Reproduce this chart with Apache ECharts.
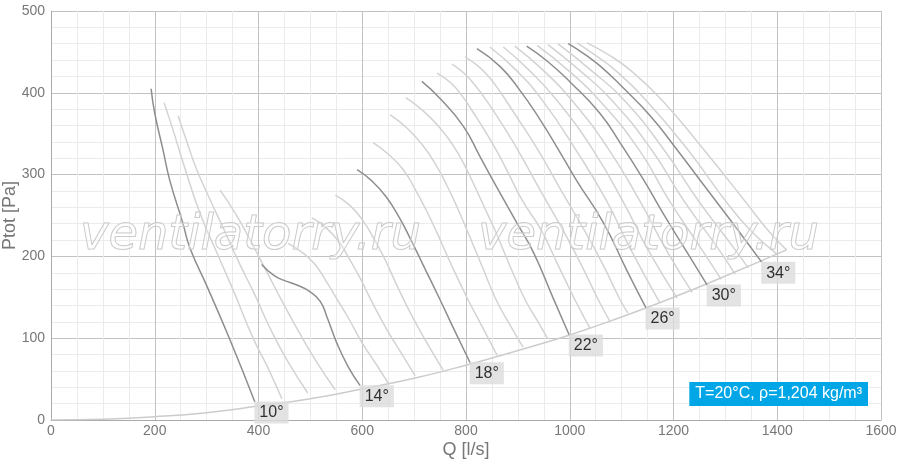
<!DOCTYPE html>
<html><head><meta charset="utf-8">
<script src="https://cdn.jsdelivr.net/npm/echarts/dist/echarts.min.js"></script>
<style>html,body{margin:0;padding:0;background:#fff}#c{width:900px;height:471px}</style>
</head><body><div id="c"></div>
<script>
// Fan curves Q [l/s], Ptot [Pa], one per blade angle
const c10 = [[193,405],[200,375],[216,330],[229,293],[254,241],[268,210],[301,163],[345,98],[393,22]];
const c11 = [[218,388],[237,351],[255,314],[287,253],[316,210],[353,156],[389,101],[418,64],[445,26]];
const c12 = [[245,372],[262,340],[281,306],[307,269],[334,232],[362,193],[393,153],[424,110],[457,71],[495,33]];
const c13 = [[326,281],[355,253],[384,220],[416,181],[449,141],[482,103],[515,68],[548,37]];
const c14 = [[406,190],[429,177],[448,171],[474,165],[499,157],[519,145],[532,126],[551,94],[573,65],[596,42]];
const c15 = [[457,216],[484,205],[509,190],[530,170],[551,148],[573,125],[600,94],[625,70],[650,45]];
const c16 = [[503,247],[530,235],[555,218],[576,196],[598,171],[619,144],[648,110],[675,82],[702,54]];
const c17 = [[548,275],[575,263],[600,245],[623,221],[644,196],[665,167],[696,127],[725,94],[756,61]];
const c18 = [[590,306],[619,292],[646,273],[671,248],[694,220],[717,190],[750,147],[779,108],[808,70]];
const c19 = [[621,339],[652,324],[679,306],[702,282],[723,257],[744,229],[773,188],[804,147],[833,112],[860,79]];
const c20 = [[654,373],[686,357],[715,337],[740,314],[763,287],[785,257],[804,229],[831,188],[858,147],[885,116],[910,89]];
const c21 = [[684,394],[719,377],[750,357],[777,334],[800,308],[821,280],[842,251],[858,229],[885,188],[914,147],[937,122],[958,99]];
const c22 = [[715,414],[750,393],[795,359],[827,322],[859,285],[898,241],[930,205],[968,149],[999,104]];
const c23 = [[744,424],[771,412],[794,395],[815,375],[837,353],[860,328],[883,300],[908,269],[945,232],[977,190],[1010,147],[1039,112]];
const c24 = [[773,435],[798,423],[819,408],[839,391],[862,369],[900,330],[943,281],[987,232],[1022,190],[1055,147],[1078,120]];
const c25 = [[798,444],[823,433],[846,418],[866,401],[889,379],[939,330],[983,281],[1028,232],[1064,190],[1097,147],[1112,131]];
const c26 = [[821,454],[866,432],[904,403],[943,367],[975,334],[1013,293],[1065,241],[1110,183],[1147,137]];
const c27 = [[846,456],[896,428],[947,391],[1012,330],[1070,269],[1118,208],[1174,143]];
const c28 = [[872,456],[921,428],[975,391],[1045,330],[1101,269],[1151,208],[1207,149]];
const c29 = [[894,457],[948,428],[1004,391],[1076,330],[1134,269],[1186,208],[1236,156]];
const c30 = [[917,457],[958,438],[1001,413],[1058,375],[1099,337],[1141,295],[1189,243],[1228,203],[1265,165]];
const c31 = [[937,458],[996,428],[1057,391],[1134,330],[1191,269],[1255,208],[1292,172]];
const c32 = [[958,459],[1018,428],[1081,391],[1158,330],[1219,269],[1288,208],[1319,178]];
const c33 = [[977,460],[1040,428],[1105,391],[1182,330],[1247,269],[1319,208],[1344,186]];
const c34 = [[997,460],[1029,447],[1060,432],[1100,408],[1155,372],[1205,332],[1255,290],[1315,240],[1370,193]];
const c35 = [[1014,461],[1049,446],[1087,428],[1147,391],[1228,330],[1299,269],[1348,232],[1399,203]];
const c36 = [[1033,461],[1076,446],[1116,428],[1178,391],[1259,330],[1336,269],[1382,232],[1418,208]];

const bladeAngles = [10,11,12,13,14,15,16,17,18,19,20,21,22,23,24,25,26,27,28,29,30,31,32,33,34,35,36];
const curves = [c10,c11,c12,c13,c14,c15,c16,c17,c18,c19,c20,c21,c22,c23,c24,c25,c26,c27,c28,c29,c30,c31,c32,c33,c34,c35,c36];
const labeledAngles = [10,14,18,22,26,30,34];

// System (duct) curve
const systemCurve = [[0,0],[100,1],[200,4],[300,9],[400,17],[500,26],[600,38],[700,51],[800,67],[900,85],[1000,104],[1100,126],[1200,150],[1300,176],[1418,208]];

const xAxisName = 'Q [l/s]';
const yAxisName = 'Ptot [Pa]';
const infoText = 'T=20°C, ρ=1,204 kg/m³';
const watermarkText = 'ventilatorry.ru';

const FONT = '"Liberation Sans", Arial, sans-serif';

const series = curves.map((d, i) => {
  const dark = labeledAngles.includes(bladeAngles[i]);
  return {
    type: 'line', data: d, smooth: 0.5, symbol: 'none', silent: true,
    lineStyle: { color: dark ? '#8e8e8e' : '#d3d3d3', width: 1.5 },
    z: dark ? 4 : 3
  };
});
series.push({
  type: 'line', data: systemCurve, smooth: 0.5, symbol: 'none', silent: true,
  lineStyle: { color: '#cccccc', width: 1.5 }, z: 3
});
series.push({
  type: 'scatter', symbolSize: 1, silent: true, z: 6,
  itemStyle: { color: 'rgba(0,0,0,0)' },
  data: labeledAngles.map(a => {
    const d = curves[bladeAngles.indexOf(a)];
    return { value: d[d.length - 1], name: a + '°' };
  }),
  label: {
    show: true, position: [0, 0], formatter: p => p.name,
    color: '#000', fontSize: 16, fontFamily: FONT, lineHeight: 17,
    backgroundColor: '#dcdcdc', padding: [3, 5, 2, 5]
  }
});

const chart = echarts.init(document.getElementById('c'));
chart.setOption({
  animation: false,
  backgroundColor: '#fff',
  grid: { left: 51, right: 19, top: 11, bottom: 51, containLabel: false, outerBoundsMode: 'none' },
  xAxis: {
    type: 'value', min: 0, max: 1600, interval: 200,
    name: xAxisName, nameLocation: 'middle', nameGap: 21, nameMoveOverlap: false,
    nameTextStyle: { color: '#777', fontSize: 18, fontFamily: FONT },
    axisLine: { show: true, lineStyle: { color: '#aaa' } },
    axisTick: { show: false },
    axisLabel: { color: '#777', fontSize: 14, fontFamily: FONT, margin: 4, formatter: v => String(v) },
    splitLine: { show: true, lineStyle: { color: '#c2c2c2', width: 1 } },
    minorTick: { show: false, splitNumber: 4 },
    minorSplitLine: { show: true, lineStyle: { color: '#ebebeb', width: 1 } }
  },
  yAxis: {
    type: 'value', min: 0, max: 500, interval: 100,
    name: yAxisName, nameLocation: 'middle', nameGap: 32, nameRotate: 90, nameMoveOverlap: false,
    nameTextStyle: { color: '#777', fontSize: 18, fontFamily: FONT },
    axisLine: { show: true, lineStyle: { color: '#aaa' } },
    axisTick: { show: false },
    axisLabel: { color: '#777', fontSize: 14, fontFamily: FONT, margin: 6, formatter: v => String(v) },
    splitLine: { show: true, lineStyle: { color: '#c2c2c2', width: 1 } },
    minorTick: { show: false, splitNumber: 5 },
    minorSplitLine: { show: true, lineStyle: { color: '#ebebeb', width: 1 } }
  },
  graphic: [
    { type: 'text', x: 80, y: 237, z: 100, silent: true,
      style: { text: watermarkText, font: 'italic 48px "DejaVu Sans", sans-serif',
        fill: 'rgba(255,255,255,0.25)', stroke: '#c4c4c4', lineWidth: 1, verticalAlign: 'middle' } },
    { type: 'text', x: 478, y: 237, z: 100, silent: true,
      style: { text: watermarkText, font: 'italic 48px "DejaVu Sans", sans-serif',
        fill: 'rgba(255,255,255,0.25)', stroke: '#c4c4c4', lineWidth: 1, verticalAlign: 'middle' } },
    { type: 'text', right: 32, bottom: 65, z: 101, silent: true,
      style: { text: infoText, font: '16px ' + FONT, fill: '#fff',
        backgroundColor: '#00a6e6', padding: [4, 6, 4, 6] } }
  ],
  series: series
});
</script>
</body></html>
